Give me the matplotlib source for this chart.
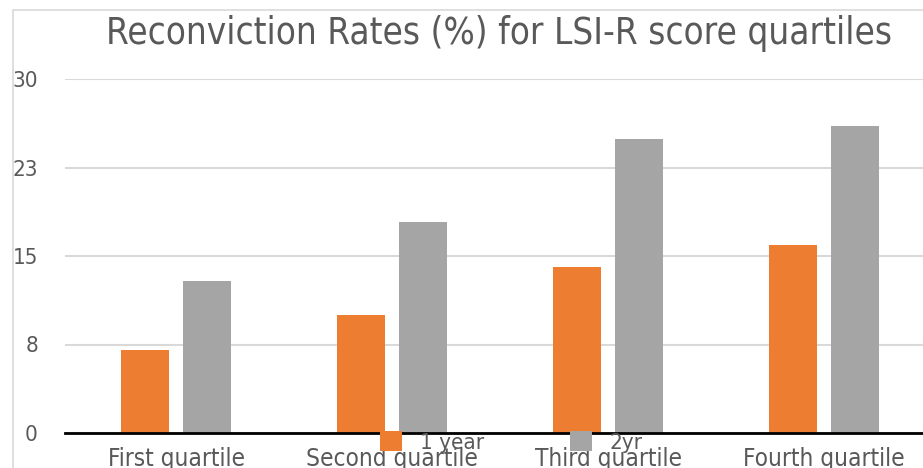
import matplotlib.pyplot as plt
import matplotlib.patches as mpatches
import numpy as np

# ==============================
# DATA
# ==============================
categories = ["First quartile", "Second quartile", "Third quartile", "Fourth quartile"]
one_year = [7.0, 10.0, 14.1, 15.9]
two_year = [12.9, 17.9, 24.9, 26.0]
tick_values = [0, 7.5, 15, 22.5, 30]
tick_labels = ["0", "8", "15", "23", "30"]

ORANGE = "#ED7D31"
GRAY = "#A5A5A5"
TEXT = "#595959"

plt.rcParams['font.family'] = ['DejaVu Sans']
plt.rcParams['font.stretch'] = 'condensed'

W, H = 923, 468
fig = plt.figure(figsize=(W / 100, H / 100), dpi=100)

# chart border (cropped on right and bottom)
fig.patches.append(mpatches.Rectangle((13 / W, -0.1), 2, 1.1 - 10 / H,
                                      transform=fig.transFigure, fill=False,
                                      edgecolor="#d9d9d9", linewidth=1.2))

ax = fig.add_axes([65 / W, 35 / H, (W - 65) / W, (433 - 79) / H])

x = np.arange(len(categories))
bw = 0.222
off = 0.1435
b1 = ax.bar(x - off, one_year, bw, color=ORANGE, label="1 year", zorder=3)
b2 = ax.bar(x + off, two_year, bw, color=GRAY, label="2yr", zorder=3)

ax.set_xlim(-0.514, -0.514 + (W - 65) / 216)
ax.set_ylim(0, 30)
ax.set_yticks(tick_values)
ax.set_yticklabels(tick_labels)
ax.set_xticks(x)
ax.set_xticklabels(categories)

ax.tick_params(axis="y", length=0, pad=19.5, labelsize=16, labelcolor=TEXT)
ax.tick_params(axis="x", length=0, pad=10, labelsize=17.5, labelcolor=TEXT)

ax.grid(axis="y", color="#d9d9d9", linewidth=1.5, zorder=0)
for s in ["top", "right", "left"]:
    ax.spines[s].set_visible(False)
ax.spines["bottom"].set_color("black")
ax.spines["bottom"].set_linewidth(2)
ax.spines["bottom"].set_zorder(4)

fig.text(499 / W, 1 - 33 / H, "Reconviction Rates (%) for LSI-R score quartiles",
         ha="center", va="center", fontsize=26.4, color=TEXT)

fig.legend(handles=[b1, b2], labels=["1 year", "2yr"], ncol=2,
           loc="center left", bbox_to_anchor=(380 / W, 1 - 442 / H),
           frameon=False, fontsize=16, labelcolor=TEXT,
           handlelength=1.0, handleheight=1.0, handletextpad=0.8,
           columnspacing=3.85, borderpad=0, borderaxespad=0)

plt.savefig("out.png", dpi=100)
